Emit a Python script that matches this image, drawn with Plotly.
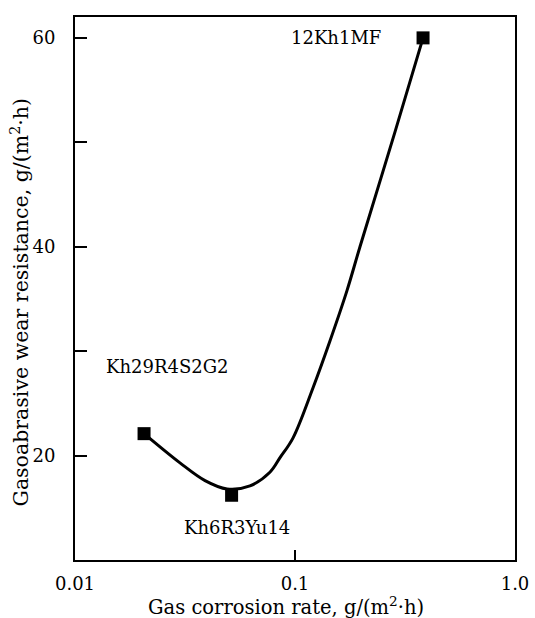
import math
import plotly.graph_objects as go

# Measured alloys
alloy_names = ["Kh29R4S2G2", "Kh6R3Yu14", "12Kh1MF"]
corrosion_rate = [0.0206, 0.0515, 0.382]
wear_resistance = [22.1, 16.2, 60.0]

# Fitted trend curve
curve_x = [0.0206, 0.030, 0.039, 0.0491, 0.0624, 0.0769, 0.0855, 0.098, 0.1208,
           0.1443, 0.1723, 0.1974, 0.2848, 0.382]
curve_y = [22.1, 19.3, 17.6, 16.8, 17.1, 18.4, 19.8, 21.7, 26.5,
           31.0, 35.8, 40.0, 51.0, 60.0]

# Label positions (data coordinates)
label_x = [0.0262, 0.0544, 0.382]
label_y = [28.5, 13.1, 60.0]

x_tickvals = [0.01, 0.1, 1.0]
x_ticktext = ["0.01", "0.1", "1.0"]
y_tickvals = [20, 40, 60]
y_ticktext = ["20", "40", "60"]
y_minor_tickvals = [30, 50]

x_title = "Gas corrosion rate, g/(m<sup>2</sup>·h)"
y_title = "Gasoabrasive wear resistance, g/(m<sup>2</sup>·h)"

font = "DejaVu Serif"

fig = go.Figure()
fig.add_trace(go.Scatter(x=curve_x, y=curve_y, mode="lines",
                         line=dict(color="black", width=3, shape="spline", smoothing=1.0),
                         hoverinfo="skip", showlegend=False))
fig.add_trace(go.Scatter(x=corrosion_rate, y=wear_resistance, mode="markers",
                         marker=dict(symbol="square", size=13, color="black"),
                         text=alloy_names, showlegend=False))

anchors = ["center", "center", "right"]
shifts = [0, 0, -40]
for name, lx, ly, anc, sh in zip(alloy_names, label_x, label_y, anchors, shifts):
    fig.add_annotation(x=math.log10(lx), y=ly, xref="x", yref="y", text=name,
                       showarrow=False, xanchor=anc, yanchor="middle", xshift=sh,
                       font=dict(family=font, size=18, color="black"))

# Axis titles
fig.add_annotation(x=0.5, y=0, xref="paper", yref="paper", text=x_title,
                   showarrow=False, xanchor="center", yanchor="middle",
                   xshift=-9, yshift=-46,
                   font=dict(family=font, size=19.5, color="black"))
fig.add_annotation(x=0, y=0.5, xref="paper", yref="paper", text=y_title,
                   showarrow=False, xanchor="center", yanchor="middle",
                   xshift=-55, yshift=-14,
                   textangle=-90, font=dict(family=font, size=20.5, color="black"))

fig.update_layout(
    width=535, height=618,
    margin=dict(l=75, r=20, t=17, b=58),
    paper_bgcolor="white", plot_bgcolor="white",
    font=dict(family=font, size=18, color="black"),
    showlegend=False,
)
fig.update_xaxes(type="log", range=[-2, 0], tickvals=x_tickvals, ticktext=x_ticktext,
                 ticks="inside", ticklen=10, tickwidth=1.5, tickcolor="black",
                 showline=True, linecolor="black", linewidth=2, mirror=True,
                 showgrid=False, zeroline=False, ticklabelstandoff=6, automargin=False,
                 ticklabeloverflow="allow")
fig.update_yaxes(range=[10, 62], tickvals=y_tickvals, ticktext=y_ticktext,
                 ticks="inside", ticklen=12, tickwidth=1.5, tickcolor="black",
                 minor=dict(tickvals=y_minor_tickvals, ticks="inside", ticklen=12,
                            tickwidth=1.5, tickcolor="black", showgrid=False),
                 showline=True, linecolor="black", linewidth=2, mirror=True,
                 showgrid=False, zeroline=False, ticklabelstandoff=14, automargin=False)

fig.write_html("out.html", config={"displayModeBar": False},
               post_script="document.body.style.margin='0';document.body.style.overflow='hidden';")
